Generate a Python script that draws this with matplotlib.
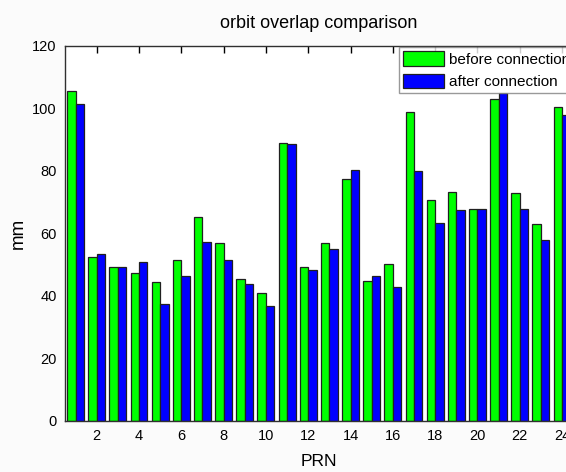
import matplotlib
matplotlib.use("Agg")
import matplotlib.pyplot as plt
import numpy as np

plt.rcParams['font.family'] = ['Liberation Sans', 'DejaVu Sans']

prn = list(range(1, 25))
before = [105.5, 52.3, 49.3, 47.3, 44.3, 51.3, 65.2, 56.8, 45.3, 40.8, 88.9, 49.3,
          56.8, 77.3, 44.8, 50.2, 98.8, 70.7, 73.3, 67.8, 103.0, 72.8, 62.8, 100.3]
after = [101.5, 53.2, 49.3, 50.8, 37.2, 46.3, 57.3, 51.3, 43.8, 36.8, 88.4, 48.3,
         54.8, 80.2, 46.3, 42.8, 79.8, 63.3, 67.3, 67.8, 105.0, 67.8, 57.9, 97.8]
xticks = list(range(2, 25, 2))
yticks = [0, 20, 40, 60, 80, 100, 120]

fig = plt.figure(figsize=(5.66, 4.72), dpi=100)
fig.patch.set_facecolor('#fbfbfb')
ax = fig.add_axes([0.1148, 0.1087, 0.8969, 0.7945])

x = np.array(prn, dtype=float)
w = 0.4
ax.bar(x - w/2, before, width=w, color='#00ff00', edgecolor='#202020', linewidth=0.9,
       label='before connection', zorder=2)
ax.bar(x + w/2, after, width=w, color='#0000ff', edgecolor='#202020', linewidth=0.9,
       label='after connection', zorder=2)

ax.set_xlim(0.5, 24.5)
ax.set_ylim(0, 120)
ax.set_xticks(xticks)
ax.set_yticks(yticks)
ax.tick_params(axis='x', direction='in', top=True, bottom=True, length=5, width=1,
               labelsize=10.5, pad=6)
ax.tick_params(axis='y', length=0, labelsize=10.5, pad=6)
for s in ax.spines.values():
    s.set_linewidth(1.0)
    s.set_color('#303030')

ax.set_title('orbit overlap comparison', fontsize=13, pad=13)
ax.set_xlabel('PRN', fontsize=12.5, labelpad=8)
ax.set_ylabel('mm', fontsize=13.5, labelpad=4)

leg = ax.legend(loc='upper left', bbox_to_anchor=(399.3/566, (472-47.3)/472),
                bbox_transform=fig.transFigure, borderaxespad=0, fontsize=11,
                fancybox=False, frameon=True, handlelength=2.7, handleheight=1.1,
                handletextpad=0.3, labelspacing=0.45, borderpad=0.25)
leg.get_frame().set_edgecolor('#808080')
leg.get_frame().set_linewidth(1.0)
leg.set_zorder(5)

fig.savefig('out.png', dpi=100, facecolor=fig.get_facecolor())
